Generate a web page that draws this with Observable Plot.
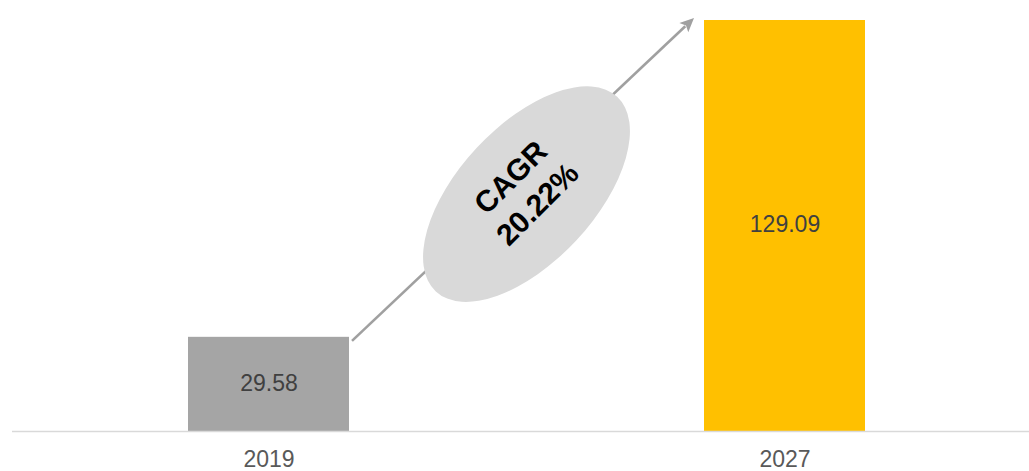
<!DOCTYPE html>
<html>
<head>
<meta charset="utf-8">
<script src="https://cdn.jsdelivr.net/npm/d3@7"></script>
<script src="https://cdn.jsdelivr.net/npm/@observablehq/plot@0.6"></script>
<style>
  html, body { margin: 0; padding: 0; background: #ffffff; }
  #chart { width: 1029px; height: 471px; overflow: hidden; }
</style>
</head>
<body>
<div id="chart"></div>
<script>
// ---- data ----
const years = ["2019", "2027"];
const values = [29.58, 129.09];
const barColors = ["#a5a5a5", "#ffc000"];
const cagrLines = ["CAGR", "20.22%"];

const data = years.map((year, i) => ({year, value: values[i], color: barColors[i]}));
const fmt = d3.format(".2f");
const FONT = "'Liberation Sans', Arial, Helvetica, sans-serif";

const chart = Plot.plot({
  width: 1029,
  height: 471,
  marginLeft: 12,
  marginRight: 0,
  marginTop: 20,
  marginBottom: 40,
  style: {fontFamily: FONT, background: "#ffffff", overflow: "visible"},
  x: {domain: years, range: [188, 865], paddingInner: 0.688, paddingOuter: 0, label: null},
  y: {domain: [0, d3.max(values)], axis: null},
  marks: [
    Plot.barY(data, {x: "year", y: "value", fill: "color"}),
    Plot.ruleY([0], {stroke: "#d9d9d9", strokeWidth: 1.6}),
    Plot.text(data, {
      x: "year", y: d => d.value / 2, text: d => fmt(d.value),
      fill: "#404040", fontSize: 23, dy: -1
    }),
    Plot.axisX({tickSize: 0, tickPadding: 19, fontSize: 23, color: "#595959", label: null})
  ]
});

document.getElementById("chart").appendChild(chart);

// ---- annotation (arrow, ellipse, CAGR text) positioned from the plot's scales ----
const sx = chart.scale("x");
const sy = chart.scale("y");
const bw = sx.bandwidth;
const x0End = sx.apply(years[0]) + bw;      // right edge of first bar
const x1Start = sx.apply(years[1]);         // left edge of second bar
const yTop0 = sy.apply(values[0]);
const yTop1 = sy.apply(values[1]);

const svg = d3.select(chart);
const g = svg.append("g");

// arrow
const ax1 = x0End + 3, ay1 = yTop0 + 4;
const ax2 = x1Start - 10, ay2 = yTop1 - 2;
const len = Math.hypot(ax2 - ax1, ay2 - ay1);
const ux = (ax2 - ax1) / len, uy = (ay2 - ay1) / len;
const headL = 14, headW = 6.5;
const bx = ax2 - ux * headL, by = ay2 - uy * headL;
g.append("line")
  .attr("x1", ax1).attr("y1", ay1).attr("x2", bx + ux * 2).attr("y2", by + uy * 2)
  .attr("stroke", "#a0a0a0").attr("stroke-width", 2.6);
g.append("path")
  .attr("d", `M${ax2},${ay2}L${bx - uy * headW},${by + ux * headW}L${bx + ux * 3},${by + uy * 3}L${bx + uy * headW},${by - ux * headW}Z`)
  .attr("fill", "#a0a0a0");

// ellipse
const cx = (x0End + x1Start) / 2, cy = sy.apply(74.4);
g.append("ellipse")
  .attr("cx", cx).attr("cy", cy).attr("rx", 133).attr("ry", 68)
  .attr("transform", `rotate(-47 ${cx} ${cy})`)
  .attr("fill", "#d9d9d9");

// CAGR text
const t = g.append("text")
  .attr("transform", `translate(${cx - 3},${cy - 4}) rotate(-45)`)
  .attr("text-anchor", "middle")
  .attr("font-family", FONT)
  .attr("font-weight", "bold")
  .attr("font-size", 30)
  .attr("fill", "#000000");
cagrLines.forEach((s, i) => {
  t.append("tspan").attr("x", 0).attr("y", (i - 0.5) * 38 + 11).text(s);
});
</script>
</body>
</html>
